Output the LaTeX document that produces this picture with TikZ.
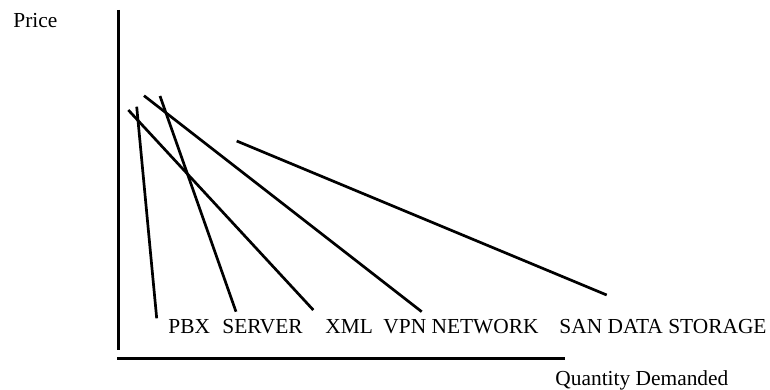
\documentclass[tikz,border=0pt]{standalone}
\usepackage{fontspec}
\setmainfont{Liberation Serif}
\usetikzlibrary{positioning}

\begin{document}
\begin{tikzpicture}[
    x=0.5pt, y=-0.5pt,
    axis/.style={line width=1.5pt, color=black},
    demand/.style={line width=1.35pt, color=black},
    lbl/.style={inner sep=0pt, anchor=base west,
                font=\fontsize{10.7}{12}\selectfont},
  ]
    \useasboundingbox (0,0) rectangle (770,390);

    % axes
    \coordinate (ytop)  at (118,10);
    \coordinate (ybot)  at (118,350);
    \coordinate (xleft) at (117,358);
    \coordinate (xright) at (565,358);
    \draw[axis] (ytop) -- (ybot);
    \draw[axis] (xleft) -- (xright);

    \node[lbl] (price) at (13,28)   {Price};
    \node[lbl] (qty)   at (555,385) {Quantity Demanded};

    % demand curves
    \coordinate (pbxtop) at (136.7,106.7);
    \coordinate (pbxend) at (156.7,318.3);
    \coordinate (srvtop) at (160,96);
    \coordinate (srvend) at (236,311.7);
    \coordinate (xmltop) at (128.3,110);
    \coordinate (xmlend) at (313.3,310);
    \coordinate (vpntop) at (144,95.7);
    \coordinate (vpnend) at (421.7,311.7);
    \coordinate (santop) at (236.7,141);
    \coordinate (sanend) at (606.7,295);

    \draw[demand] (pbxtop) -- (pbxend);
    \draw[demand] (srvtop) -- (srvend);
    \draw[demand] (xmltop) -- (xmlend);
    \draw[demand] (vpntop) -- (vpnend);
    \draw[demand] (santop) -- (sanend);

    \node[lbl] (pbx) at (168,333) {PBX};
    \node[lbl] (srv) at (222,333) {SERVER};
    \node[lbl] (xml) at (325,333) {XML};
    \node[lbl] (vpn) at (383,333) {VPN NETWORK};
    \node[lbl] (san) at (559,333) {SAN DATA STORAGE};
\end{tikzpicture}
\end{document}
